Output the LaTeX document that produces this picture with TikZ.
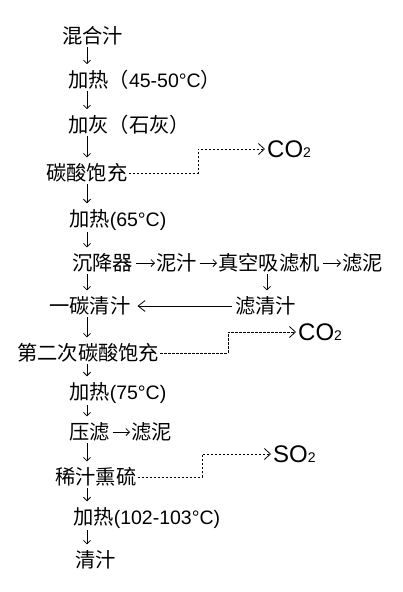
\documentclass[tikz,border=0pt]{standalone}
\usepackage{fontspec}
\setmainfont{Liberation Sans}
\newfontfamily\cjk{Noto Sans CJK SC}[Scale=1.04]
\usetikzlibrary{arrows.meta}
\tikzset{
  lbl/.style={anchor=west,inner sep=0pt,font=\fontsize{19.5}{20}\selectfont},
  gas/.style={anchor=west,inner sep=0pt,font=\fontsize{24}{24}\selectfont},
  arr/.style={draw,line width=0.8pt,-{Straight Barb[length=3.5pt,width=7pt]}},
  harr/.style={arr,shorten <=3pt,shorten >=1pt},
  varr/.style={arr,shorten <=1.5pt,shorten >=6pt},
  longarr/.style={draw,line width=0.8pt,-{Straight Barb[length=7pt,width=11pt]},shorten <=3pt,shorten >=7pt},
  dsh/.style={draw,line width=0.8pt,dash pattern=on 2.5pt off 1.5pt,-{Straight Barb[length=6pt,width=11pt]},shorten <=1pt,shorten >=2pt}
}
\newcommand{\sub}[1]{{\fontsize{14}{14}\selectfont #1}}
\begin{document}
\begin{tikzpicture}[x=1pt,y=-1pt]
\useasboundingbox[fill=white] (0,0) rectangle (403,592);
\coordinate (ax) at (87,0);
\coordinate (bx) at (267,0);
\coordinate (k1) at (198,0);
\coordinate (k2) at (228,0);
\coordinate (k3) at (202,0);
\node[lbl] (n1) at (62,36) {\cjk 混合汁};
\node[lbl] (n2) at (68,80) {{\cjk 加热（}45-50°C{\cjk ）}};
\node[lbl] (n3) at (68,125) {\cjk 加灰（石灰）};
\node[lbl] (n4) at (46,173) {\cjk 碳酸饱充};
\node[gas] (co2a) at (267,149) {CO\sub{2}};
\node[lbl] (n5) at (69,220) {{\cjk 加热}(65°C)};
\node[lbl] (n6) at (72,263) {\cjk 沉降器};
\node[lbl] (n7) at (156,263) {\cjk 泥汁};
\node[lbl] (n8) at (218,263) {\cjk 真空吸滤机};
\node[lbl] (n9) at (342,263) {\cjk 滤泥};
\node[lbl] (n10) at (49,306) {\cjk 一碳清汁};
\node[lbl] (n11) at (235,306) {\cjk 滤清汁};
\node[lbl] (n12) at (17,353) {\cjk 第二次碳酸饱充};
\node[gas] (co2b) at (298,332) {CO\sub{2}};
\node[lbl] (n13) at (69,393) {{\cjk 加热}(75°C)};
\node[lbl] (n14) at (69,432) {\cjk 压滤};
\node[lbl] (n15) at (131,432) {\cjk 滤泥};
\node[lbl] (n16) at (55,477) {\cjk 稀汁熏硫};
\node[gas] (so2) at (273,454) {SO\sub{2}};
\node[lbl] (n17) at (73,518) {{\cjk 加热}(102-103°C)};
\node[lbl] (n18) at (75,560) {\cjk 清汁};
% vertical arrows
\foreach \a/\b in {n1/n2,n2/n3,n3/n4,n4/n5,n5/n6,n6/n10,n10/n12,n12/n13,n13/n14,n14/n16,n16/n17,n17/n18}
  \draw[varr] (\a.south -| ax) -- (\b.north -| ax);
\draw[varr] (n8.south -| bx) -- (n11.north -| bx);
% horizontal arrows
\draw[harr] (n6.east) -- (n7.west);
\draw[harr] (n7.east) -- (n8.west);
\draw[harr] (n8.east) -- (n9.west);
\draw[harr] (n14.east) -- (n15.west);
\draw[longarr] (n11.west) -- (n10.east);
% dashed gas lines
\draw[dsh] (n4.east) -- (n4.east -| k1) |- (co2a.west);
\draw[dsh] (n12.east) -- (n12.east -| k2) |- (co2b.west);
\draw[dsh] (n16.east) -- (n16.east -| k3) |- (so2.west);
\end{tikzpicture}
\end{document}
